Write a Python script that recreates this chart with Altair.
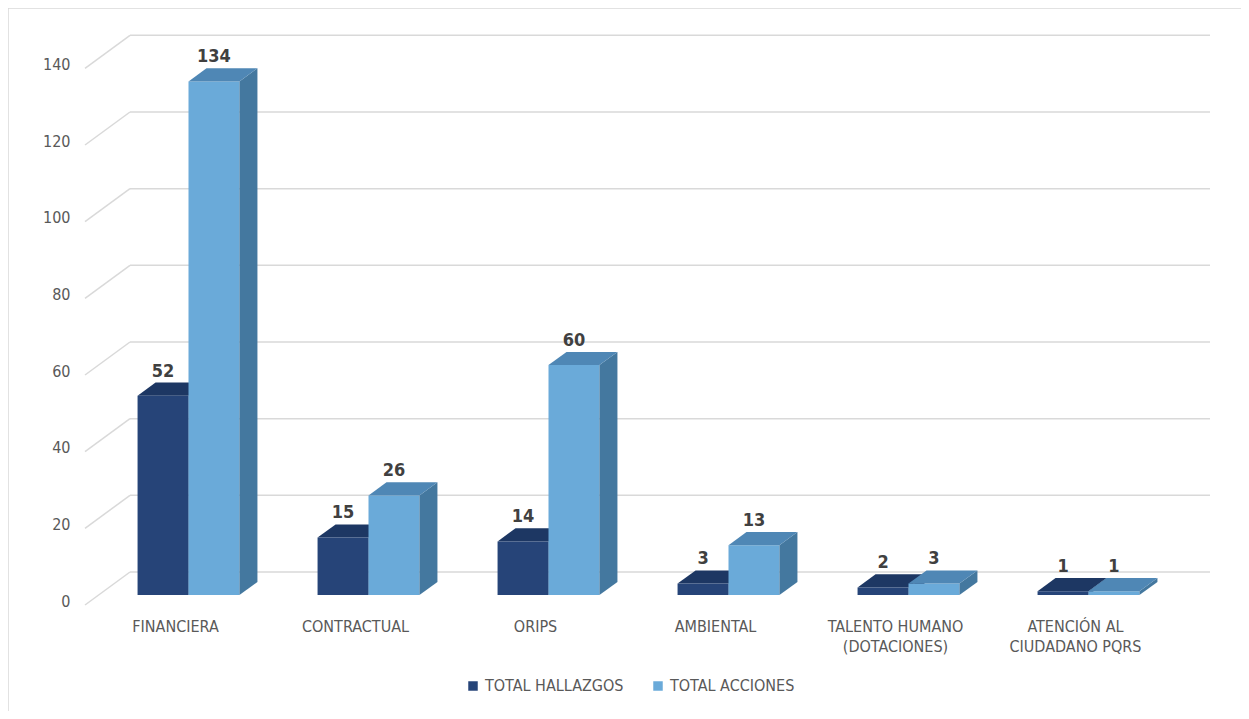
import json
import altair as alt
import pandas as pd

# ---------------- data ----------------
categorias = ["FINANCIERA", "CONTRACTUAL", "ORIPS", "AMBIENTAL",
              "TALENTO HUMANO|(DOTACIONES)", "ATENCIÓN AL|CIUDADANO PQRS"]
hallazgos = [52, 15, 14, 3, 2, 1]
acciones = [134, 26, 60, 13, 3, 1]
series = ["TOTAL HALLAZGOS", "TOTAL ACCIONES"]
y_ticks = [0, 20, 40, 60, 80, 100, 120, 140]

# ---------------- style / 3D geometry ----------------
FONT = "Liberation Sans Narrow, Arial Narrow, DejaVu Sans Condensed, sans-serif"
DEPTH_X = 0.25      # floor depth in category units
DEPTH_Y = 8.61      # floor depth in value units
BAR_W = 0.283       # width of each bar (category units)
D0, D1 = 0.3, 0.7   # bar front/back position inside the depth
front_col = ["#264478", "#6aaad9"]
top_col = ["#1d3763", "#4f87b5"]
side_col = ["#1f3a66", "#44789f"]
GRID = "#d9d9d9"

n = len(categorias)
XDOM = [-0.5, n - 0.5 + DEPTH_X]
YDOM = [0, 150]
xs = alt.Scale(domain=XDOM, nice=False, zero=False)
ys = alt.Scale(domain=YDOM, nice=False, zero=False)

label_expr = "split(" + json.dumps(categorias, ensure_ascii=False) + "[datum.value], '|')"
AX = alt.Axis(values=list(range(n)), labelExpr=label_expr, domain=False,
              ticks=False, grid=False, labelFont=FONT, labelFontSize=16,
              labelColor="#595959", labelPadding=13, labelLineHeight=20,
              labelAlign="center", labelBaseline="top", title=None)
AY = alt.Axis(values=y_ticks, domain=False, ticks=False, grid=False,
              labelFont=FONT, labelFontSize=16, labelColor="#595959",
              labelPadding=15, labelOffset=-4, title=None)

front, top, side, labels = [], [], [], []
dx = (D1 - D0) * DEPTH_X
yb, yt = D0 * DEPTH_Y, D1 * DEPTH_Y
for s, vals in enumerate([hallazgos, acciones]):
    for i, v in enumerate(vals):
        x0 = i + D0 * DEPTH_X - BAR_W + s * BAR_W
        x1 = x0 + BAR_W
        key = f"{s}-{i}"
        front.append(dict(serie=series[s], s=s, x=x0, x2=x1, y=yb, y2=v + yb))
        top.append(dict(s=s, key=key, y=v + yb, x=x0, x2=x1))
        top.append(dict(s=s, key=key, y=v + yt, x=x0 + dx, x2=x1 + dx))
        side.append(dict(s=s, key=key, x=x1, y=yb, y2=v + yb))
        side.append(dict(s=s, key=key, x=x1 + dx, y=yt, y2=v + yt))
        labels.append(dict(x=(x0 + x1) / 2, y=v + yt, text=str(v)))

front_df = pd.DataFrame(front)
top_df = pd.DataFrame(top)
side_df = pd.DataFrame(side)
lab_df = pd.DataFrame(labels)

grid_rows = []
for t in y_ticks:
    grid_rows.append(dict(x=XDOM[0], x2=XDOM[0] + DEPTH_X, y=t, y2=t + DEPTH_Y))
    grid_rows.append(dict(x=XDOM[0] + DEPTH_X, x2=XDOM[1], y=t + DEPTH_Y, y2=t + DEPTH_Y))
grid_df = pd.DataFrame(grid_rows)

# ---------------- layers ----------------
grid = alt.Chart(grid_df).mark_rule(color=GRID, strokeWidth=1.5).encode(
    x=alt.X("x:Q", scale=xs, axis=AX), x2="x2:Q",
    y=alt.Y("y:Q", scale=ys, axis=AY), y2="y2:Q")

frame = alt.Chart(pd.DataFrame({"a": [0]})).mark_rect(
    filled=False, stroke=GRID, strokeWidth=1.5
).encode(x=alt.value(-77), x2=alt.value(1300), y=alt.value(-22), y2=alt.value(800))


def side_layer(s):
    return alt.Chart(side_df[side_df.s == s]).mark_area(
        orient="vertical", color=side_col[s]).encode(
        x=alt.X("x:Q", scale=xs, axis=AX),
        y=alt.Y("y:Q", scale=ys, axis=AY, stack=None), y2="y2:Q",
        detail="key:N")


def top_layer(s):
    return alt.Chart(top_df[top_df.s == s]).mark_area(
        orient="horizontal", color=top_col[s]).encode(
        y=alt.Y("y:Q", scale=ys, axis=AY),
        x=alt.X("x:Q", scale=xs, axis=AX, stack=None), x2="x2:Q",
        detail="key:N")


front_layer = alt.Chart(front_df).mark_rect().encode(
    x=alt.X("x:Q", scale=xs, axis=AX), x2="x2:Q",
    y=alt.Y("y:Q", scale=ys, axis=AY), y2="y2:Q",
    color=alt.Color("serie:N", scale=alt.Scale(domain=series, range=front_col),
                    legend=alt.Legend(title=None, orient="none", legendX=380, legendY=648,
                                      direction="horizontal", symbolType="square",
                                      symbolSize=90, symbolStrokeWidth=0,
                                      labelFont=FONT, labelFontSize=16,
                                      labelColor="#595959", columnPadding=26,
                                      labelOffset=4)),
)

text_layer = alt.Chart(lab_df).mark_text(
    font=FONT, fontSize=18, fontWeight="bold", color="#404040",
    baseline="bottom", dy=-2).encode(
    x=alt.X("x:Q", scale=xs, axis=AX),
    y=alt.Y("y:Q", scale=ys, axis=AY),
    text="text:N")

chart = alt.layer(
    grid, frame,
    side_layer(0), top_layer(0),
    front_layer,
    side_layer(1), top_layer(1),
    text_layer,
).properties(
    width=1125, height=575,
    autosize=alt.AutoSizeParams(type="none"),
    padding={"left": 77, "top": 22, "right": 31, "bottom": 106},
).configure_view(strokeWidth=0)

chart.save("out.html", embed_options={"renderer": "svg", "actions": False})
